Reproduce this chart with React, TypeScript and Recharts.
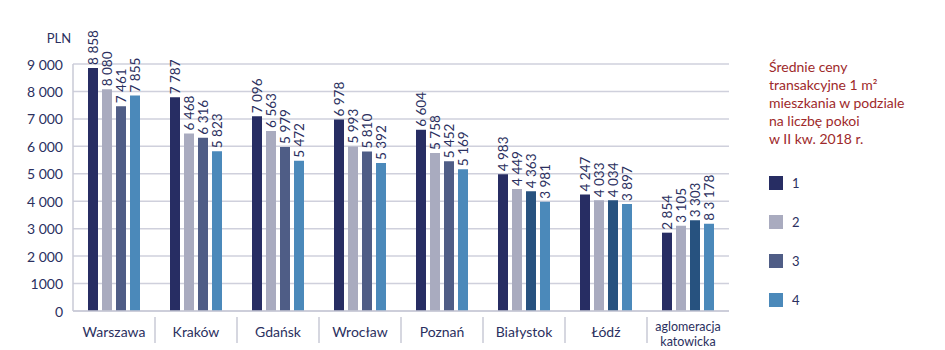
import React from 'react';
import { BarChart, Bar, XAxis, YAxis, CartesianGrid, LabelList, Legend, Cell } from 'recharts';

const cities = ['Warszawa', 'Kraków', 'Gdańsk', 'Wrocław', 'Poznań', 'Białystok', 'Łódź', 'aglomeracja katowicka'];
const rooms1 = [8858, 7787, 7096, 6978, 6604, 4983, 4247, 2854];
const rooms2 = [8080, 6468, 6563, 5993, 5758, 4449, 4033, 3105];
const rooms3 = [7461, 6316, 5979, 5810, 5452, 4363, 4034, 3303];
const rooms4 = [7855, 5823, 5472, 5392, 5169, 3981, 3897, 3178];
const yTicks = [0, 1000, 2000, 3000, 4000, 5000, 6000, 7000, 8000, 9000];
const yTickLabels = ['0', '1000', '2 000', '3 000', '4 000', '5 000', '6 000', '7 000', '8 000', '9 000'];
const seriesNames = ['1', '2', '3', '4'];
const titleLines = ['Średnie ceny', 'transakcyjne 1 m²', 'mieszkania w podziale', 'na liczbę pokoi', 'w II kw. 2018 r.'];
// the last label in the source carries a stray "8"
const rooms4Labels = ['7 855', '5 823', '5 472', '5 392', '5 169', '3 981', '3 897', '8 3 178'];

const colors = ['#272d63', '#a9abbf', '#4f5d86', '#4b89ba'];
const rooms3Colors = ['#4f5d86', '#4f5d86', '#4f5d86', '#4f5d86', '#4f5d86', '#27527f', '#27527f', '#27527f'];
const textColor = '#2b3060';
const FONT = 'Lato, "Open Sans", sans-serif';

const data = cities.map((city, i) => ({
  city,
  r1: rooms1[i],
  r2: rooms2[i],
  r3: rooms3[i],
  r4: rooms4[i],
  l4: rooms4Labels[i],
}));

const fmt = (v: number) => String(v).replace(/\B(?=(\d{3})+(?!\d))/g, ' ');

const PLOT_LEFT = 73;
const PLOT_WIDTH = 656;
const LEGEND_WIDTH = 170;
const band = PLOT_WIDTH / cities.length;

const VLabel = (props: any) => {
  const { x, y, width, value } = props;
  const cx = x + width / 2;
  const ty = y - 3;
  return (
    <text
      x={cx}
      y={ty}
      transform={`rotate(-90 ${cx} ${ty})`}
      textAnchor="start"
      dominantBaseline="central"
      fontSize={13.5}
      fontFamily={FONT}
      fill={textColor}
    >
      {typeof value === 'number' ? fmt(value) : value}
    </text>
  );
};

const CityTick = (props: any) => {
  const { x, y, payload, index } = props;
  const words: string[] = payload.value === 'aglomeracja katowicka' ? ['aglomeracja', 'katowicka'] : [payload.value];
  return (
    <g>
      {index > 0 && (
        <line x1={x - band / 2} x2={x - band / 2} y1={y - 2} y2={y + 24} stroke="#c9cad6" strokeWidth={1.5} />
      )}
      {words.map((w, k) => (
        <text
          key={w}
          x={x}
          y={words.length > 1 ? y + 7 + k * 15 : y + 12}
          textAnchor="middle"
          dominantBaseline="central"
          fontSize={words.length > 1 ? 12.5 : 14}
          fontFamily={FONT}
          fill={textColor}
        >
          {w}
        </text>
      ))}
    </g>
  );
};

const YTick = (props: any) => {
  const { x, y, payload } = props;
  const i = yTicks.indexOf(payload.value);
  return (
    <text x={x - 2} y={y} textAnchor="end" dominantBaseline="central" fontSize={14} fontFamily={FONT} fill={textColor}>
      {yTickLabels[i]}
    </text>
  );
};

const LegendBox = () => (
  <div style={{ fontFamily: FONT, width: LEGEND_WIDTH }}>
    {titleLines.map((l) => (
      <div key={l} style={{ color: '#9e2a2b', fontSize: 14, lineHeight: '18px', whiteSpace: 'nowrap' }}>
        {l}
      </div>
    ))}
    <div style={{ marginTop: 15 }}>
      {seriesNames.map((n, i) => (
        <div key={n} style={{ display: 'flex', alignItems: 'center', height: 39 }}>
          <span style={{ width: 14, height: 14, background: colors[i], display: 'inline-block', marginRight: 9 }} />
          <span style={{ color: textColor, fontSize: 13 }}>{n}</span>
        </div>
      ))}
    </div>
  </div>
);

const App = () => {
  return (
    <div style={{ position: 'absolute', left: 0, top: 0, width: 945, height: 350, background: '#fff' }}>
      <BarChart
        width={945}
        height={350}
        data={data}
        margin={{ top: 64, right: 945 - PLOT_LEFT - PLOT_WIDTH - LEGEND_WIDTH, bottom: 0, left: 13 }}
        barCategoryGap={15}
        barGap={4}
        barSize={10}
      >
        <CartesianGrid vertical={false} stroke="#cfd0dc" strokeWidth={1.5} />
        <XAxis
          dataKey="city"
          height={39}
          interval={0}
          tick={<CityTick />}
          tickLine={false}
          axisLine={{ stroke: '#c9cad6', strokeWidth: 1.5 }}
        />
        <YAxis
          width={60}
          domain={[0, 9000]}
          ticks={yTicks}
          tick={<YTick />}
          tickLine={false}
          axisLine={{ stroke: '#c9cad6', strokeWidth: 1.5 }}
          label={{
            content: (p: any) => (
              <text
                x={p.viewBox.x + 46}
                y={p.viewBox.y - 26}
                textAnchor="middle"
                dominantBaseline="central"
                fontSize={13}
                fontFamily={FONT}
                fill={textColor}
              >
                PLN
              </text>
            ),
          }}
        />
        <Legend
          verticalAlign="top"
          align="right"
          layout="vertical"
          content={<LegendBox />}
          wrapperStyle={{ left: 769, top: 58, width: LEGEND_WIDTH }}
        />
        <Bar dataKey="r1" name="1" fill={colors[0]} isAnimationActive={false}>
          <LabelList dataKey="r1" content={<VLabel />} />
        </Bar>
        <Bar dataKey="r2" name="2" fill={colors[1]} isAnimationActive={false}>
          <LabelList dataKey="r2" content={<VLabel />} />
        </Bar>
        <Bar dataKey="r3" name="3" fill={colors[2]} isAnimationActive={false}>
          {data.map((d, i) => (
            <Cell key={d.city} fill={rooms3Colors[i]} />
          ))}
          <LabelList dataKey="r3" content={<VLabel />} />
        </Bar>
        <Bar dataKey="r4" name="4" fill={colors[3]} isAnimationActive={false}>
          <LabelList dataKey="l4" content={<VLabel />} />
        </Bar>
      </BarChart>
    </div>
  );
};

export default App;
